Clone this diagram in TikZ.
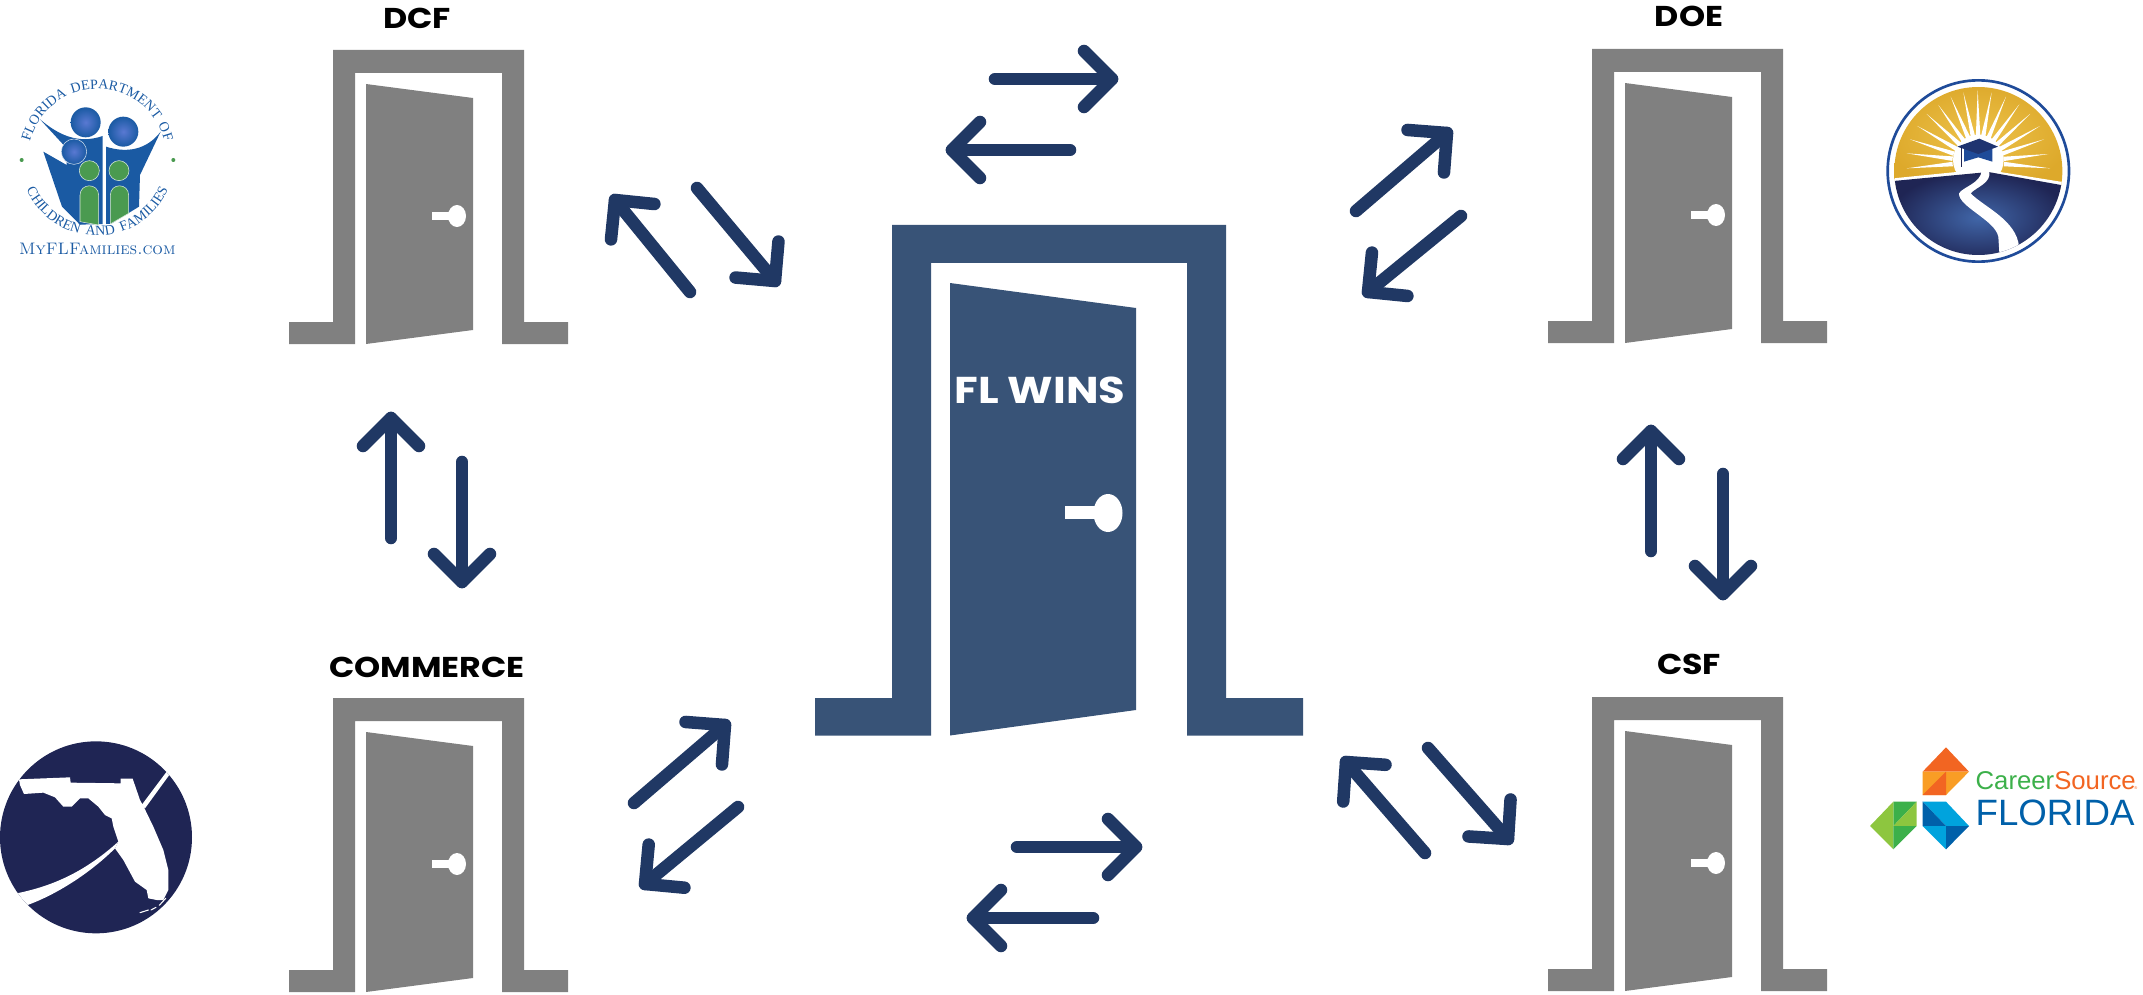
\documentclass[tikz,border=0pt]{standalone}
\usepackage{fontspec}
\usetikzlibrary{calc,decorations.text}
\newfontfamily\labelfont{Poppins}[FakeStretch=1.16]
\newfontfamily\cslogofont{Liberation Sans}
\newfontfamily\ringtop{Liberation Serif}[LetterSpace=15]
\newfontfamily\ringbot{Liberation Serif}[LetterSpace=21]
\definecolor{doorgrey}{HTML}{808080}
\definecolor{doorblue}{HTML}{385377}
\definecolor{flowblue}{HTML}{203864}
\definecolor{dcfblue}{HTML}{1A5AA3}
\definecolor{dcfgreen}{HTML}{4A9A50}
\definecolor{doeblue}{HTML}{1F4B99}
\definecolor{comnavy}{HTML}{1F2554}
\definecolor{csforange}{HTML}{F26522}
\definecolor{csfamber}{HTML}{F99D25}
\definecolor{csfgreen}{HTML}{3CB04A}
\definecolor{csflime}{HTML}{8DC63F}
\definecolor{csfblue}{HTML}{0060A9}
\definecolor{csfsky}{HTML}{00A3DD}
\definecolor{doesun}{HTML}{DDA92B}
\definecolor{doesunin}{HTML}{EDC24A}
\tikzset{
  flow/.style={draw=flowblue,line width=9.4pt,line cap=round,line join=round},
  doorlabel/.style={font=\labelfont\bfseries\fontsize{21.5}{24}\selectfont,text=black,inner sep=0pt},
  smalldoor/.pic={
    \fill[doorgrey] (289,344)--(289,322)--(333,322)--(333,50)--(524,50)--(524,322)--(568,322)--(568,344)--(502,344)--(502,73)--(355,73)--(355,344)--cycle;
    \fill[doorgrey] (366,84)--(473,98)--(473,330)--(366,344)--cycle;
    \fill[white] (432,212) rectangle (452,220);
    \fill[white] (457,216) ellipse [x radius=9,y radius=11];
  }
}
\newcommand{\flowarrow}[3]{%
  \coordinate (#1tail) at #2;
  \coordinate (#1tip) at #3;
  \coordinate (#1ba) at ($(#1tip)!29.7pt!45:(#1tail)$);
  \coordinate (#1bb) at ($(#1tip)!29.7pt!-45:(#1tail)$);
  \draw[flow] (#1tail)--(#1tip);
  \draw[flow] (#1ba)--(#1tip)--(#1bb);
}
\begin{document}
\begin{tikzpicture}[x=0.75pt,y=-0.75pt]
\useasboundingbox (0,0) rectangle (2143,995);
% small doors
\pic (dcfdoor) at (0,0) {smalldoor};
\pic (doedoor) at (1259,-1) {smalldoor};
\pic (comdoor) at (0,648) {smalldoor};
\pic (csfdoor) at (1259,647) {smalldoor};
\node[doorlabel] (dcflabel) at (417,18) {DCF};
\node[doorlabel] (doelabel) at (1689,16) {DOE};
\node[doorlabel] (comlabel) at (427,667) {COMMERCE};
\node[doorlabel] (csflabel) at (1689,664) {CSF};
% central door
\fill[doorblue] (815,735.5)--(815,698)--(892,698)--(892,225)--(1226,225)--(1226,698)--(1303,698)--(1303,735.5)--(1187,735.5)--(1187,263)--(931,263)--(931,735.5)--cycle;
\fill[doorblue] (950,283)--(1136,308)--(1136,710)--(950,735.5)--cycle;
\fill[white] (1065,506) rectangle (1098,519);
\fill[white] (1108,513) ellipse [x radius=14.5,y radius=19];
\node[font=\labelfont\bfseries\fontsize{28}{32}\selectfont,text=white,inner sep=0pt] (flwins) at (1040,390) {FL WINS};
% arrows
\flowarrow{topr}{(995,79)}{(1112,79)}
\flowarrow{topl}{(1070,150)}{(952,150)}
\flowarrow{botr}{(1017,847)}{(1136,847)}
\flowarrow{botl}{(1093,918)}{(973,918)}
\flowarrow{dcful}{(690,292)}{(615,200)}
\flowarrow{dcfdr}{(697,188)}{(775,281)}
\flowarrow{doeur}{(1356,211)}{(1447,133)}
\flowarrow{doedl}{(1461,216)}{(1368,292)}
\flowarrow{comur}{(634,803)}{(725,725)}
\flowarrow{comdl}{(738,807)}{(645,884)}
\flowarrow{csful}{(1425,853)}{(1346,762)}
\flowarrow{csfdr}{(1428,748)}{(1508,839)}
\flowarrow{leftu}{(391,538)}{(391,418)}
\flowarrow{leftd}{(462,462)}{(462,582)}
\flowarrow{rightu}{(1651,551)}{(1651,431)}
\flowarrow{rightd}{(1723,474)}{(1723,594)}
% DCF logo
\begin{scope}[shift={(0,50)},x=0.25pt,y=-0.25pt]
  \fill[dcfblue] (120,208) .. controls (170,250) and (230,285) .. (308,258)--(308,522)--(240,524)--(186,470)--(130,305)--(200,345)--(200,295)--cycle;
  \fill[dcfblue] (482,245) .. controls (440,300) and (380,310) .. (318,290)--(318,522)--(332,522)--(417,470)--(420,375)--cycle;
  \shade[inner color=blue!30!dcfblue!70!white,outer color=dcfblue] (257,217) circle [radius=45];
  \shade[inner color=blue!30!dcfblue!70!white,outer color=dcfblue] (370,245) circle [radius=45];
  \shade[inner color=blue!30!dcfblue!70!white,outer color=dcfblue,draw=white!80!dcfblue,line width=0.4pt] (222,305) circle [radius=38];
  \fill[dcfgreen,draw=white!80!dcfgreen,line width=0.4pt] (268,362) circle [radius=30];
  \fill[dcfgreen,draw=white!80!dcfgreen,line width=0.4pt] (357,362) circle [radius=30];
  \fill[dcfgreen,draw=white!80!dcfgreen,line width=0.4pt] (240,515)--(240,436) .. controls (240,398) and (296,398) .. (296,436)--(296,525)--cycle;
  \fill[dcfgreen,draw=white!80!dcfgreen,line width=0.4pt] (331,522)--(331,436) .. controls (331,398) and (386,398) .. (386,436)--(386,490)--cycle;
  \coordinate (ringc) at (292,325);
  \path[decorate,decoration={text along path,text color=dcfblue,text align=center,
    text={|\ringtop\fontsize{10.5}{11}\selectfont|FLORIDA DEPARTMENT OF}}]
    ($(ringc)+(210:52pt)$) arc [start angle=210,end angle=-30,radius=52pt];
  \path[decorate,decoration={text along path,text color=dcfblue,text align=center,
    text={|\ringbot\fontsize{10.5}{11}\selectfont|CHILDREN AND FAMILIES}}]
    ($(ringc)+(160:58pt)$) arc [start angle=160,end angle=380,radius=58pt];
  \fill[dcfgreen] (65,330) circle [radius=6];
  \fill[dcfgreen] (520,330) circle [radius=6];
  \node[font=\fontsize{12.5}{15}\selectfont\scshape,text=dcfblue,inner sep=0pt] (dcfsite) at (292,597) {MyFLFamilies.com};
\end{scope}
% DOE logo
\begin{scope}[shift={(1860,50)},x=0.25pt,y=-0.25pt]
  \draw[doeblue,line width=2pt] (355,363) circle [radius=272];
  \begin{scope}
    \clip (355,363) circle [radius=252];
    \shade[inner color=doesunin,outer color=doesun] (80,100) rectangle (630,420);
    \coordinate (sun) at (355,335);
    \foreach \tx/\ty in {140/355,140/310,150/268,172/228,200/192,235/165,272/140,310/127,353/120,395/127,438/140,478/163,510/192,540/228,552/268,565/312,570/355}{
      \fill[white] (\tx,\ty)--($(sun)!0.36!5:(\tx,\ty)$)--($(sun)!0.36!-5:(\tx,\ty)$)--cycle;
    }
    \fill[white] (355,330) circle [radius=76];
    \fill[white] (90,386)--(370,358)--(620,398)--(620,420)--(90,420)--cycle;
    \shade[inner color=doeblue!85!white,outer color=comnavy] (90,394)--(385,366)--(620,408)--(620,640)--(90,640)--cycle;
    \fill[white] (365,362) .. controls (362,400) and (310,410) .. (297,430) .. controls (295,470) and (405,510) .. (415,560) -- (420,640)--(500,640)--(477,590) .. controls (470,510) and (370,470) .. (332,430) .. controls (350,410) and (395,400) .. (388,362)--cycle;
  \end{scope}
  \fill[doeblue] (312,296)--(312,335)--(355,322)--(397,335)--(397,296)--cycle;
  \fill[comnavy!60!doeblue] (292,290)--(358,266)--(414,290)--(355,312)--cycle;
  \draw[comnavy,line width=0.7pt] (303,292)--(303,350);
\end{scope}
% Commerce logo
\begin{scope}[shift={(0,720)},x=0.25pt,y=-0.25pt]
  \fill[comnavy] (288,352) circle [radius=288];
  \begin{scope}
    \clip (288,352) circle [radius=288];
    \fill[white] (355,365) .. controls (250,460) and (150,500) .. (50,520)--(80,556) .. controls (180,520) and (280,450) .. (345,385)--cycle;
    \fill[white] (425,255)--(500,155)--(510,162)--(435,265)--cycle;
  \end{scope}
  \fill[white] (57,178)--(210,172)--(212,188)--(362,190)--(362,176)--(398,176)--(420,240)--(430,258)--(460,320)--(490,390)--(505,450)--(505,510)--(490,540)--(470,540)--(445,535)--(440,510)--(405,485)--(370,420)--(345,385)--(355,365)--(340,320)--(335,295)--(315,285)--(295,260)--(265,235)--(240,235)--(215,260)--(190,260)--(165,232)--(130,218)--(72,222)--(60,195)--cycle;
  \draw[white,line width=0.8pt,line cap=round] (420,578)--(445,570) (453,570)--(468,562) (478,556)--(497,535);
\end{scope}
% CareerSource logo
\begin{scope}[shift={(1850,730)},x=0.25pt,y=-0.25pt]
  \fill[csforange] (288,52)--(357,125)--(218,125)--cycle;
  \fill[csfamber] (218,125)--(357,125)--(288,195)--(218,195)--cycle;
  \fill[csforange] (288,125)--(288,195)--(218,195)--cycle;
  \fill[csfgreen] (130,215)--(200,215)--(130,288)--cycle;
  \fill[csflime] (200,215)--(200,288)--(130,288)--cycle;
  \fill[csflime] (130,215)--(130,358)--(60,288)--cycle;
  \fill[csfgreen] (130,288)--(200,288)--(130,358)--cycle;
  \fill[csfsky] (218,215)--(288,215)--(357,288)--(288,288)--cycle;
  \fill[csfblue] (218,215)--(288,288)--(218,288)--cycle;
  \fill[csfsky] (218,288)--(288,288)--(288,358)--cycle;
  \fill[csfblue] (288,288)--(357,288)--(288,358)--cycle;
  \node[anchor=base west,inner sep=0pt,font=\cslogofont\fontsize{19.3}{21}\selectfont] (csftop) at (376,178) {\textcolor{csfgreen}{Career}\textcolor{csforange}{Source}};
  \node[anchor=base west,inner sep=0pt,font=\cslogofont\fontsize{3}{3.5}\selectfont,text=csforange] (csfreg) at (852,178) {\textregistered};
  \node[anchor=base west,inner sep=0pt,font=\cslogofont\fontsize{27.5}{30}\selectfont,text=csfblue] (csfname) at (376,285) {FLORIDA};
\end{scope}
\end{tikzpicture}
\end{document}
